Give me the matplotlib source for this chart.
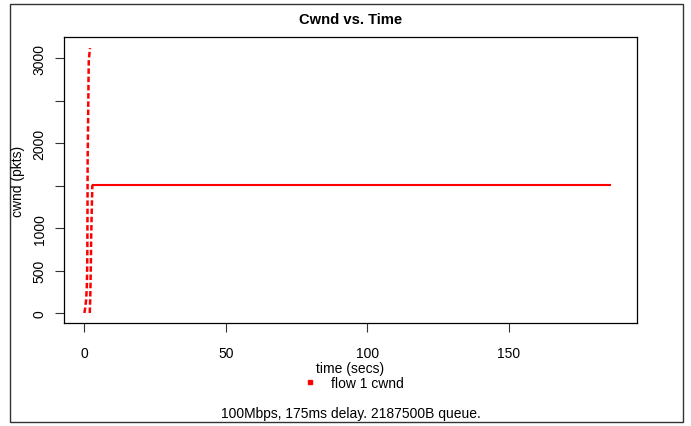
import matplotlib
matplotlib.use("Agg")
import matplotlib.pyplot as plt
from matplotlib.lines import Line2D
from matplotlib.patches import Rectangle

plt.rcParams['font.family'] = ['Liberation Sans', 'DejaVu Sans']

# Data
ramp1_time = [0.0, 0.3, 0.6, 0.85, 0.95, 1.05, 1.1, 1.15, 1.3, 1.45, 1.55, 1.8, 2.0]
ramp1_cwnd = [0, 60, 150, 300, 450, 750, 1200, 1790, 2200, 2700, 2980, 3060, 3120]
ramp2_time = [1.9, 2.05, 2.2, 2.3, 2.4, 2.6, 2.8, 2.8]
ramp2_cwnd = [0, 150, 400, 600, 900, 1200, 1480, 1510]
flat_time = [2.8, 186.0]
flat_cwnd = [1510, 1510]

x_ticks = [0, 50, 100, 150]
y_ticks = [0, 500, 1000, 1500, 2000, 2500, 3000]
y_tick_labels = ['0', '500', '1000', '', '2000', '', '3000']

title = "Cwnd vs. Time"
xlabel = "time (secs)"
ylabel = "cwnd (pkts)"
legend_label = "flow 1 cwnd"
caption = "100Mbps, 175ms delay. 2187500B queue."

W, H = 691, 427
fig = plt.figure(figsize=(W / 100, H / 100), dpi=100)

def fx(px):
    return px / W

def fy(py):
    return 1 - py / H

FS = 10.0
left, right, top, bottom = 64, 637, 38, 324
ax = fig.add_axes([fx(left), fy(bottom), (right - left) / W, (bottom - top) / H])

red = '#ff0000'
ax.plot(ramp1_time, ramp1_cwnd, color=red, lw=1.8, dashes=(2.2, 1.1))
ax.plot(ramp2_time, ramp2_cwnd, color=red, lw=1.8, dashes=(2.2, 1.1))
ax.plot(flat_time, flat_cwnd, color=red, lw=1.5, solid_capstyle='butt')

ax.set_xlim(-7.2, 195.2)
ax.set_ylim(-118, 3251)
ax.set_xticks(x_ticks)
ax.set_xticklabels([str(t) for t in x_ticks])
ax.set_yticks(y_ticks)
ax.set_yticklabels(y_tick_labels, rotation=90, va='center')
ax.tick_params(axis='both', direction='out', length=6.5, width=0.8, labelsize=FS,
               color='#333333')
ax.tick_params(axis='x', pad=10)
ax.tick_params(axis='y', pad=6)
for s in ax.spines.values():
    s.set_linewidth(0.9)
    s.set_color('black')

fig.text(fx(350.5), fy(20), title, ha='center', va='center', fontsize=10.6, fontweight='bold')
fig.text(fx(350.5), fy(369), xlabel, ha='center', va='center', fontsize=FS)
fig.text(fx(18), fy(181), ylabel, ha='center', va='center', fontsize=FS, rotation=90)
fig.text(fx(350.5), fy(414), caption, ha='center', va='center', fontsize=FS)

handle = Line2D([], [], marker='s', color=red, linestyle='none', markersize=3.5)
fig.legend([handle], [legend_label], loc='center', bbox_to_anchor=(fx(353), fy(384)),
           frameon=False, fontsize=FS, handletextpad=1.0, handlelength=1.0,
           borderpad=0, borderaxespad=0)

fig.patches.append(Rectangle((fx(10), fy(423)), (683 - 10) / W, (423 - 5) / H,
                             transform=fig.transFigure, fill=False, edgecolor='#333333',
                             linewidth=1.0))

fig.savefig('out.png', dpi=100)
